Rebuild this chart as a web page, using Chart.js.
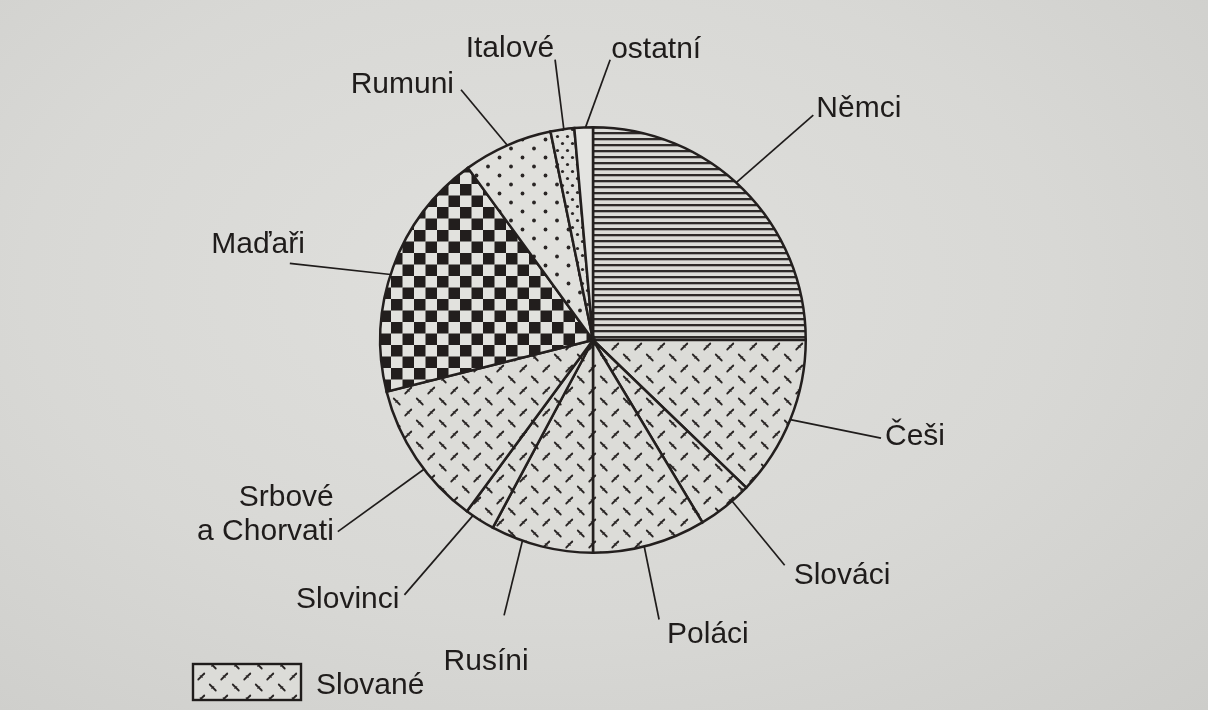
<!DOCTYPE html>
<html lang="cs">
<head>
<meta charset="utf-8">
<title>Národnosti</title>
<script src="https://cdn.jsdelivr.net/npm/chart.js@4.4.1/dist/chart.umd.min.js"></script>
<style>
  html, body { margin: 0; padding: 0; }
  body {
    width: 1208px; height: 710px; overflow: hidden;
    background: radial-gradient(ellipse at 45% 40%, #e0e0dd 0%, #d8d8d5 55%, #cdcdca 100%);
  }
  #wrap { position: relative; width: 1208px; height: 710px; }
</style>
</head>
<body>
<div id="wrap"><canvas id="pie"></canvas></div>
<script>
// slices, clockwise from 12 o'clock (share in %)
const nations = ['Němci', 'Češi', 'Slováci', 'Poláci', 'Rusíni', 'Slovinci', 'Srbové a Chorvati', 'Maďaři', 'Rumuni', 'Italové', 'ostatní'];
const shares = [25.0, 12.2, 4.2, 8.6, 7.8, 2.3, 11.0, 18.9, 6.8, 1.8, 1.4];
const fills = ['lines', 'slav', 'slav', 'slav', 'slav', 'slav', 'slav', 'checks', 'dots', 'fineDots', 'plain'];
const labelLines = [['Němci'], ['Češi'], ['Slováci'], ['Poláci'], ['Rusíni'], ['Slovinci'], ['Srbové', 'a Chorvati'], ['Maďaři'], ['Rumuni'], ['Italové'], ['ostatní']];
const legendText = 'Slované';

// leader lines: where they leave the slice (fraction of its angle), where they end
// (degrees clockwise from 12 o'clock, multiple of the radius) and where the text sits
const leaderFrac = [0.47, 0.5, 0.35, 0.55, 0.69, 0.76, 0.41, 0.47, 0.5, 0.56, 0.6];
const leaderAngle = [44.4, 108.8, 139.6, 166.7, 197.9, 216.5, 233.1, 284.2, 332.2, 352.3, 3.5];
const leaderReach = [1.48, 1.43, 1.39, 1.35, 1.36, 1.49, 1.50, 1.47, 1.33, 1.33, 1.32];
const textAlign = ['left', 'left', 'left', 'left', 'center', 'right', 'right', 'right', 'right', 'right', 'left'];
const textDx = [3, 4, 9, 8, -18, -5, -4, 15, -7, -1, 1];
const textDy = [2, 7, 19, 23, 55, 13, -26, -10, 3, -3, -2];

const INK = '#1f1c1b';
const PAPER = '#dcdcd8';

function tile(w, h, draw) {
  const c = document.createElement('canvas');
  c.width = w; c.height = h;
  const g = c.getContext('2d');
  draw(g);
  return document.createElement('canvas').getContext('2d').createPattern(c, 'repeat');
}

function dash(g, cx, cy, dir) {
  const d = 3;
  g.lineWidth = 1.8;
  g.beginPath();
  g.moveTo(cx - d, cy - d * dir);
  g.lineTo(cx + d, cy + d * dir);
  g.stroke();
  // small cross tick in the middle
  g.lineWidth = 1;
  g.beginPath();
  g.moveTo(cx - 1 * dir, cy + 1);
  g.lineTo(cx + 1 * dir, cy - 1);
  g.stroke();
}

const patterns = {
  lines: tile(6, 6, (g) => {
    g.fillStyle = PAPER; g.fillRect(0, 0, 6, 6);
    g.fillStyle = '#2e2a29'; g.fillRect(0, 0, 6, 2.3);
  }),
  slav: tile(23, 22, (g) => {
    g.fillStyle = PAPER; g.fillRect(0, 0, 23, 22);
    g.strokeStyle = '#2a2625'; g.lineCap = 'round';
    dash(g, 5.75, 5.5, 1);
    dash(g, 17.25, 16.5, -1);
  }),
  checks: tile(23, 23, (g) => {
    g.fillStyle = '#e2e2de'; g.fillRect(0, 0, 23, 23);
    g.fillStyle = '#221e1d';
    g.fillRect(0, 0, 11.5, 11.5);
    g.fillRect(11.5, 11.5, 11.5, 11.5);
  }),
  dots: tile(23, 18, (g) => {
    g.fillStyle = '#e0e0dc'; g.fillRect(0, 0, 23, 18);
    g.fillStyle = '#2a2625';
    [[5, 4.5], [16.5, 13.5]].forEach(([x, y]) => { g.beginPath(); g.arc(x, y, 1.9, 0, Math.PI * 2); g.fill(); });
  }),
  fineDots: tile(10, 14, (g) => {
    g.fillStyle = '#e0e0dc'; g.fillRect(0, 0, 10, 14);
    g.fillStyle = '#2a2625';
    [[2.5, 3.5], [7.5, 10.5]].forEach(([x, y]) => { g.beginPath(); g.arc(x, y, 1.6, 0, Math.PI * 2); g.fill(); });
  }),
  plain: '#e4e4e1',
};

const FONT = '30px "Liberation Sans", Arial, Helvetica, sans-serif';

const leaderLabels = {
  id: 'leaderLabels',
  afterDatasetsDraw(chart) {
    const ctx = chart.ctx;
    const arcs = chart.getDatasetMeta(0).data;
    ctx.save();
    ctx.strokeStyle = INK;
    ctx.fillStyle = INK;
    ctx.lineWidth = 1.7;
    ctx.font = FONT;
    ctx.textBaseline = 'alphabetic';
    arcs.forEach((arc, i) => {
      const { x, y, startAngle, endAngle, outerRadius } = arc.getProps(['x', 'y', 'startAngle', 'endAngle', 'outerRadius'], true);
      const a0 = startAngle + (endAngle - startAngle) * leaderFrac[i];
      const sx = x + Math.cos(a0) * outerRadius;
      const sy = y + Math.sin(a0) * outerRadius;
      const a1 = (leaderAngle[i] - 90) * Math.PI / 180;
      const ex = x + Math.cos(a1) * outerRadius * leaderReach[i];
      const ey = y + Math.sin(a1) * outerRadius * leaderReach[i];
      ctx.beginPath();
      ctx.moveTo(sx, sy);
      ctx.lineTo(ex, ey);
      ctx.stroke();
      ctx.textAlign = textAlign[i];
      labelLines[i].forEach((t, k) => {
        ctx.fillText(t, ex + textDx[i], ey + textDy[i] + k * 34);
      });
    });

    // legend box for the Slavic pattern
    const bx = 193, by = 664, bw = 108, bh = 36;
    ctx.fillStyle = patterns.slav;
    ctx.fillRect(bx, by, bw, bh);
    ctx.lineWidth = 2.4;
    ctx.strokeRect(bx, by, bw, bh);
    ctx.fillStyle = INK;
    ctx.textAlign = 'left';
    ctx.fillText(legendText, 316, 694);
    ctx.restore();
  },
};

new Chart(document.getElementById('pie'), {
  type: 'pie',
  data: {
    labels: nations,
    datasets: [{
      data: shares,
      backgroundColor: fills.map((f) => patterns[f]),
      borderColor: '#231f1e',
      borderWidth: 2.5,
      borderJoinStyle: 'miter',
    }],
  },
  options: {
    responsive: true,
    maintainAspectRatio: false,
    animation: false,
    events: [],
    layout: { padding: { top: 126, bottom: 156, left: 294, right: 316 } },
    plugins: {
      legend: { display: false },
      tooltip: { enabled: false },
    },
  },
  plugins: [leaderLabels],
});
</script>
</body>
</html>
